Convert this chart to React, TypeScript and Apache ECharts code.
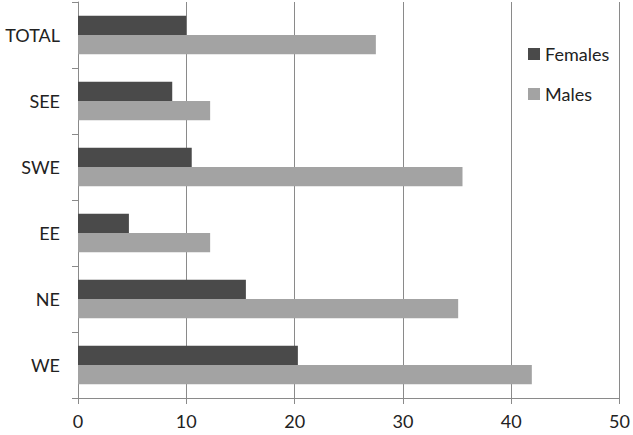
import React, { useEffect, useRef } from "react";
import * as echarts from "echarts";

const categories = ["WE", "NE", "EE", "SWE", "SEE", "TOTAL"];
const females = [20.3, 15.5, 4.7, 10.5, 8.7, 10.0];
const males = [41.9, 35.1, 12.2, 35.5, 12.2, 27.5];
const xTicks = { min: 0, max: 50, interval: 10 };

export default function App() {
  const ref = useRef<HTMLDivElement>(null);
  useEffect(() => {
    if (!ref.current) return;
    const chart = echarts.init(ref.current, undefined, { renderer: "svg" });
    const font = "Lato, 'Liberation Sans', sans-serif";
    chart.setOption({
      animation: false,
      backgroundColor: "#ffffff",
      textStyle: { fontFamily: font },
      grid: { left: 78, right: 6, top: 2, bottom: 37, containLabel: false },
      legend: {
        orient: "vertical",
        left: 523,
        top: 40,
        itemGap: 22,
        itemWidth: 12,
        itemHeight: 12,
        icon: "rect",
        textStyle: { fontSize: 18, color: "#222", fontFamily: font },
        data: ["Females", "Males"],
      },
      xAxis: {
        type: "value",
        min: xTicks.min,
        max: xTicks.max,
        interval: xTicks.interval,
        axisLine: { show: true, lineStyle: { color: "#8a8a8a", width: 1 } },
        axisTick: { show: true, length: 6, lineStyle: { color: "#8a8a8a" } },
        axisLabel: { fontSize: 18, color: "#222", margin: 14, fontFamily: font },
        splitLine: { show: true, lineStyle: { color: "#8a8a8a", width: 1 } },
      },
      yAxis: {
        type: "category",
        data: categories,
        axisLine: { show: true, lineStyle: { color: "#8a8a8a", width: 1 } },
        axisTick: { show: true, length: 6, lineStyle: { color: "#8a8a8a" } },
        axisLabel: { fontSize: 18, color: "#222", margin: 18, fontFamily: font },
      },
      series: [
        {
          name: "Females",
          type: "bar",
          data: females,
          itemStyle: { color: "#4a4a4a" },
          barGap: "0%",
          barCategoryGap: "42%",
          z: 3,
        },
        {
          name: "Males",
          type: "bar",
          data: males,
          itemStyle: { color: "#a3a3a3" },
          barGap: "0%",
          barCategoryGap: "42%",
          z: 3,
        },
      ],
    });
    return () => chart.dispose();
  }, []);
  return <div ref={ref} style={{ width: 633, height: 435, position: "absolute", left: 0, top: 0 }} />;
}
